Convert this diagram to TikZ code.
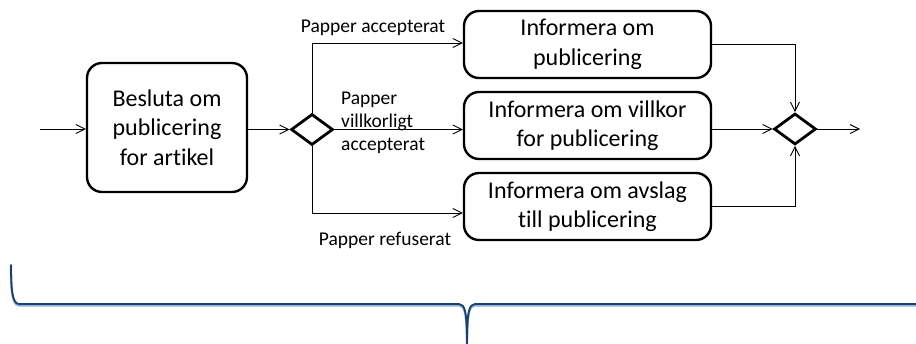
\documentclass[tikz,border=0pt]{standalone}
\usepackage{fontspec}
\setmainfont{Carlito}[RawFeature={-liga;-clig}]
\usetikzlibrary{arrows.meta,shapes.geometric}
\definecolor{bracedark}{HTML}{1B3F6E}
\definecolor{bracelight}{HTML}{8FB1DC}
\begin{document}
\begin{tikzpicture}[x=1pt,y=-1pt,
  task/.style={draw, line width=2.4pt, rounded corners=15pt, align=center,
    inner sep=0pt, font=\fontsize{24}{29.5}\selectfont},
  gate/.style={draw, diamond, line width=2.8pt, minimum width=42pt,
    minimum height=31pt, inner sep=0pt},
  flow/.style={line width=0.9pt, -{Straight Barb[length=9pt,width=9pt]}},
  lbl/.style={font=\fontsize{19.5}{23}\selectfont, inner sep=0pt},
  bracepath/.style={line cap=round, line join=round}]
\useasboundingbox (0,0) rectangle (916,343);
\clip (0,0) rectangle (916,343);

% activities and gateways
\node[task, minimum width=160pt, minimum height=129pt] (dec) at (167,127.5)
  {Besluta om\\publicering\\for artikel};
\node[gate] (g1) at (312,129.5) {};
\node[task, minimum width=247pt, minimum height=67pt] (inf) at (587.5,44.5)
  {Informera om\\publicering};
\node[task, minimum width=247pt, minimum height=67pt] (vil) at (587.5,125.5)
  {Informera om villkor\\for publicering};
\node[task, minimum width=247pt, minimum height=67pt] (avs) at (587.5,206.5)
  {Informera om avslag\\till publicering};
\node[gate] (g2) at (795,129) {};

\coordinate (start) at (40,129);
\coordinate (end) at (860,129);
\coordinate (ya) at (0,43);
\coordinate (yc) at (0,213);

% sequence flows
\draw[flow] (start) -- (start -| dec.west);
\draw[flow] (g1 -| dec.east) -- (g1.west);
\draw[flow] (g1.north) |- (ya -| inf.west);
\draw[flow] (g1.east) -- (g1.east -| vil.west);
\draw[flow] (g1.south) |- (yc -| avs.west);
\draw[flow] (inf.east) -| (g2.north);
\draw[flow] (g2 -| vil.east) -- (g2.west);
\draw[flow] (avs.east) -| (g2.south);
\draw[flow] (g2.east) -- (end);

% branch conditions
\node[lbl] (la) at (373,28) {Papper accepterat};
\node[lbl, align=left, anchor=west] (lb) at (341,122.5) {Papper\\villkorligt\\accepterat};
\node[lbl] (lc) at (385,240) {Papper refuserat};

% brace under the process
\foreach \c/\w/\d in {bracelight/2.4pt/1.3, bracedark/1.8pt/0} {
  \draw[bracepath, draw=\c, line width=\w, yshift=-\d pt]
    (11,265) .. controls (11,288) and (12,304) .. (19,304)
    -- (459,304) .. controls (465,304) and (467,312) .. (467,345)
    .. controls (467,312) and (469,304) .. (475,304) -- (930,304);
}
\end{tikzpicture}
\end{document}
